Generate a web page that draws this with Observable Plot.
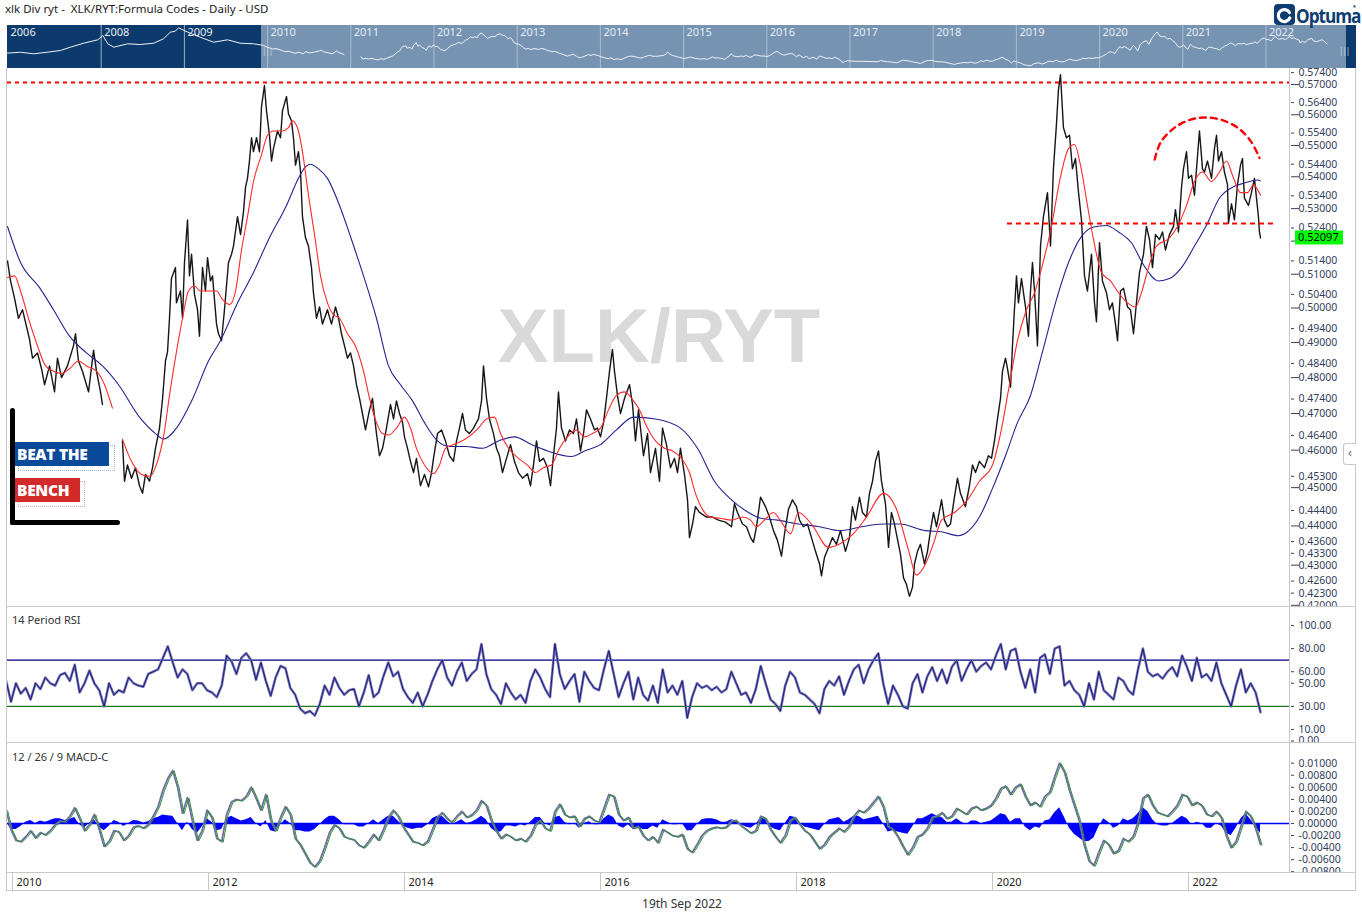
<!DOCTYPE html>
<html><head><meta charset="utf-8">
<script src="https://cdn.jsdelivr.net/npm/d3@7"></script>
<script src="https://cdn.jsdelivr.net/npm/@observablehq/plot@0.6"></script>
<style>
body{margin:0;background:#fff;font-family:"Noto Sans",sans-serif;}
#root{position:relative;width:1362px;height:924px;overflow:hidden;background:#fff;}
</style></head><body><div id="root"></div>
<script>
// ---------------- DATA ----------------
const price = [
[2009.949,0.514],[2009.980,0.508],[2010.020,0.503],[2010.061,0.497],[2010.102,0.4995],[2010.173,0.491],[2010.204,0.4855],[2010.255,0.487],[2010.296,0.4825],[2010.327,0.478],[2010.378,0.4833],[2010.429,0.476],[2010.459,0.4855],[2010.500,0.480],[2010.561,0.4833],[2010.622,0.489],[2010.643,0.4925],[2010.673,0.4847],[2010.714,0.4818],[2010.776,0.476],[2010.827,0.4878],[2010.857,0.4818],[2010.898,0.476],[2010.918,0.4725],
[2011.02,null],
[2011.122,0.4625],[2011.143,0.4517],[2011.173,0.456],[2011.214,0.4525],[2011.255,0.4553],[2011.296,0.4505],[2011.327,0.4485],[2011.357,0.4535],[2011.398,0.4517],[2011.429,0.4553],[2011.459,0.4605],[2011.500,0.466],[2011.531,0.474],[2011.561,0.4847],[2011.582,0.4873],[2011.602,0.497],[2011.622,0.5087],[2011.663,0.512],[2011.673,0.5015],[2011.714,0.505],[2011.735,0.497],[2011.755,0.5135],[2011.786,0.5265],[2011.806,0.5095],[2011.827,0.516],[2011.857,0.504],[2011.888,0.4995],[2011.908,0.4918],[2011.939,0.512],[2011.969,0.505],[2011.990,0.515],[2012.020,0.508],[2012.041,0.5095],[2012.082,0.4953],[2012.102,0.4925],[2012.133,0.4905],[2012.163,0.4995],[2012.204,0.5135],[2012.235,0.516],[2012.255,0.5185],[2012.296,0.5275],[2012.327,0.522],[2012.357,0.529],[2012.378,0.5367],[2012.398,0.5395],[2012.418,0.545],[2012.439,0.5525],[2012.459,0.548],[2012.490,0.5525],[2012.520,0.548],[2012.541,0.5627],[2012.571,0.5697],[2012.592,0.5613],[2012.622,0.5533],[2012.643,0.545],[2012.663,0.549],[2012.704,0.5547],[2012.735,0.5525],[2012.755,0.5613],[2012.796,0.566],[2012.816,0.5603],[2012.847,0.558],[2012.867,0.5525],[2012.888,0.5437],[2012.918,0.548],[2012.939,0.5415],[2012.959,0.5275],[2012.990,0.521],[2013.020,0.5185],[2013.051,0.512],[2013.071,0.5045],[2013.102,0.497],[2013.133,0.5003],[2013.163,0.4953],[2013.214,0.4995],[2013.255,0.4953],[2013.296,0.5003],[2013.327,0.497],[2013.357,0.4925],[2013.388,0.489],[2013.418,0.4855],[2013.449,0.487],[2013.480,0.4833],[2013.510,0.478],[2013.541,0.4742],[2013.571,0.470],[2013.602,0.4655],[2013.643,0.471],[2013.673,0.4742],[2013.714,0.4645],[2013.745,0.4585],[2013.776,0.4605],[2013.816,0.466],[2013.857,0.4725],[2013.888,0.4685],[2013.918,0.4735],[2013.949,0.470],[2013.980,0.4675],[2014.000,0.4636],[2014.031,0.4605],[2014.061,0.457],[2014.092,0.454],[2014.122,0.4578],[2014.163,0.4505],[2014.204,0.4535],[2014.245,0.4502],[2014.276,0.454],[2014.296,0.4578],[2014.337,0.4645],[2014.378,0.4655],[2014.418,0.4625],[2014.459,0.4585],[2014.500,0.457],[2014.531,0.4625],[2014.561,0.466],[2014.592,0.470],[2014.622,0.4655],[2014.663,0.4645],[2014.704,0.466],[2014.755,0.4685],[2014.786,0.4735],[2014.806,0.4833],[2014.837,0.4742],[2014.867,0.4685],[2014.908,0.4645],[2014.939,0.4605],[2014.969,0.4585],[2015.000,0.454],[2015.041,0.4578],[2015.082,0.4615],[2015.122,0.457],[2015.163,0.454],[2015.204,0.4525],[2015.255,0.4537],[2015.286,0.4505],[2015.316,0.456],[2015.347,0.4625],[2015.378,0.457],[2015.418,0.4578],[2015.459,0.4553],[2015.490,0.4505],[2015.520,0.4585],[2015.551,0.466],[2015.571,0.476],[2015.602,0.466],[2015.643,0.4625],[2015.684,0.4655],[2015.724,0.4645],[2015.755,0.4685],[2015.796,0.4598],[2015.827,0.4645],[2015.857,0.471],[2015.898,0.4685],[2015.939,0.4655],[2015.969,0.466],[2016.000,0.4636],[2016.031,0.4675],[2016.061,0.4742],[2016.092,0.4818],[2016.122,0.488],[2016.143,0.4818],[2016.173,0.475],[2016.204,0.470],[2016.245,0.4742],[2016.296,0.478],[2016.327,0.4725],[2016.357,0.4625],[2016.388,0.471],[2016.439,0.4585],[2016.480,0.4645],[2016.510,0.454],[2016.561,0.4605],[2016.602,0.4517],[2016.633,0.466],[2016.673,0.4615],[2016.714,0.4553],[2016.755,0.4578],[2016.786,0.454],[2016.816,0.4605],[2016.857,0.4535],[2016.888,0.4468],[2016.908,0.437],[2016.939,0.4405],[2016.969,0.445],[2017.010,0.4435],[2017.082,0.4423],[2017.143,0.4423],[2017.204,0.4415],[2017.276,0.441],[2017.337,0.4398],[2017.367,0.4458],[2017.398,0.4435],[2017.449,0.4405],[2017.490,0.4398],[2017.531,0.437],[2017.561,0.4358],[2017.592,0.4398],[2017.633,0.4475],[2017.684,0.445],[2017.724,0.4423],[2017.765,0.4388],[2017.806,0.4363],[2017.847,0.4323],[2017.878,0.438],[2017.918,0.4443],[2017.959,0.4468],[2018.000,0.445],[2018.031,0.4415],[2018.071,0.4398],[2018.112,0.4405],[2018.153,0.437],[2018.194,0.4335],[2018.235,0.4303],[2018.255,0.4273],[2018.286,0.432],[2018.327,0.4345],[2018.367,0.437],[2018.408,0.4353],[2018.449,0.4388],[2018.500,0.4335],[2018.541,0.437],[2018.571,0.445],[2018.602,0.4415],[2018.643,0.4475],[2018.673,0.4435],[2018.714,0.4423],[2018.745,0.4485],[2018.776,0.4517],[2018.806,0.457],[2018.837,0.4598],[2018.867,0.4517],[2018.908,0.4458],[2018.939,0.4345],[2018.969,0.4435],[2019.000,0.4405],[2019.041,0.4353],[2019.061,0.4328],[2019.092,0.4268],[2019.122,0.4252],[2019.153,0.4222],[2019.184,0.4245],[2019.204,0.4303],[2019.235,0.4335],[2019.265,0.4353],[2019.306,0.4303],[2019.337,0.4335],[2019.367,0.4388],[2019.398,0.4435],[2019.429,0.4398],[2019.480,0.4468],[2019.510,0.4415],[2019.541,0.4398],[2019.571,0.4405],[2019.612,0.4475],[2019.643,0.4525],[2019.673,0.4485],[2019.724,0.445],[2019.765,0.4505],[2019.796,0.456],[2019.827,0.454],[2019.867,0.457],[2019.918,0.4553],[2019.959,0.4585],[2019.990,0.4578],[2020.020,0.4625],[2020.051,0.4685],[2020.082,0.4742],[2020.102,0.4818],[2020.133,0.4855],[2020.153,0.4825],[2020.184,0.4773],[2020.204,0.489],[2020.224,0.4995],[2020.245,0.5095],[2020.265,0.5015],[2020.296,0.5087],[2020.337,0.5003],[2020.367,0.4918],[2020.388,0.505],[2020.408,0.5135],[2020.429,0.505],[2020.459,0.489],[2020.490,0.5185],[2020.520,0.5275],[2020.561,0.535],[2020.592,0.5185],[2020.622,0.5425],[2020.653,0.557],[2020.673,0.5683],[2020.694,0.5733],[2020.724,0.5558],[2020.755,0.5525],[2020.786,0.5533],[2020.816,0.5425],[2020.847,0.5458],[2020.878,0.535],[2020.908,0.5265],[2020.939,0.5095],[2020.969,0.505],[2021.010,0.516],[2021.041,0.5015],[2021.061,0.496],[2021.092,0.5195],[2021.122,0.508],[2021.163,0.5045],[2021.194,0.4995],[2021.224,0.5015],[2021.255,0.4953],[2021.276,0.4905],[2021.306,0.505],[2021.337,0.5058],[2021.378,0.5003],[2021.408,0.4995],[2021.439,0.4925],[2021.469,0.5015],[2021.500,0.5105],[2021.541,0.516],[2021.571,0.5245],[2021.602,0.5205],[2021.633,0.512],[2021.663,0.522],[2021.704,0.5205],[2021.735,0.5228],[2021.765,0.5173],[2021.806,0.522],[2021.847,0.5245],[2021.867,0.5297],[2021.898,0.5228],[2021.929,0.5367],[2021.949,0.5425],[2021.980,0.548],[2022.000,0.5395],[2022.031,0.5405],[2022.061,0.5342],[2022.082,0.5425],[2022.112,0.5547],[2022.143,0.5425],[2022.163,0.5415],[2022.194,0.545],[2022.235,0.5395],[2022.265,0.549],[2022.286,0.5533],[2022.306,0.545],[2022.337,0.548],[2022.367,0.5415],[2022.398,0.5375],[2022.408,0.5255],[2022.439,0.5315],[2022.469,0.5265],[2022.500,0.5375],[2022.531,0.5437],[2022.551,0.5458],[2022.571,0.5333],[2022.612,0.531],[2022.643,0.535],[2022.673,0.5395],[2022.694,0.5333],[2022.714,0.5275],[2022.724,0.5228],[2022.735,0.52097]
];
const redMA = [
[2009.949,0.509],[2010.020,0.5095],[2010.082,0.505],[2010.173,0.496],[2010.255,0.489],[2010.337,0.4833],[2010.418,0.4818],[2010.500,0.4812],[2010.582,0.4825],[2010.673,0.4847],[2010.755,0.4833],[2010.857,0.4818],[2010.939,0.478],[2011.020,0.4715],[2011.07,null],[2011.122,0.463],[2011.214,0.457],[2011.316,0.4535],[2011.398,0.453],[2011.480,0.457],[2011.541,0.4636],[2011.602,0.475],[2011.673,0.4873],[2011.735,0.497],[2011.796,0.505],[2011.857,0.5065],[2011.918,0.505],[2012.000,0.505],[2012.082,0.505],[2012.143,0.5025],[2012.214,0.501],[2012.276,0.505],[2012.337,0.5173],[2012.398,0.5275],[2012.459,0.5385],[2012.541,0.547],[2012.602,0.5533],[2012.663,0.5547],[2012.755,0.5547],[2012.816,0.5558],[2012.857,0.558],[2012.918,0.5547],[2012.959,0.548],[2013.020,0.5342],[2013.082,0.522],[2013.143,0.5095],[2013.214,0.5015],[2013.276,0.498],[2013.337,0.497],[2013.418,0.4925],[2013.500,0.489],[2013.582,0.4818],[2013.643,0.4742],[2013.714,0.4675],[2013.776,0.4645],[2013.837,0.4641],[2013.918,0.466],[2014.000,0.469],[2014.061,0.466],[2014.122,0.4605],[2014.204,0.456],[2014.296,0.4537],[2014.357,0.456],[2014.418,0.4605],[2014.500,0.4615],[2014.622,0.463],[2014.755,0.466],[2014.837,0.4685],[2014.918,0.469],[2014.980,0.4645],[2015.061,0.4605],[2015.163,0.4578],[2015.255,0.456],[2015.337,0.454],[2015.418,0.4553],[2015.500,0.456],[2015.582,0.4605],[2015.663,0.4636],[2015.755,0.4655],[2015.837,0.4636],[2015.918,0.4645],[2016.000,0.466],[2016.082,0.471],[2016.163,0.475],[2016.245,0.476],[2016.337,0.4735],[2016.388,0.4715],[2016.480,0.466],[2016.561,0.4625],[2016.653,0.4605],[2016.735,0.4598],[2016.827,0.4578],[2016.908,0.454],[2016.969,0.4485],[2017.041,0.4443],[2017.122,0.4423],[2017.224,0.442],[2017.337,0.4415],[2017.449,0.4423],[2017.531,0.4415],[2017.592,0.4398],[2017.684,0.4418],[2017.765,0.4435],[2017.847,0.441],[2017.939,0.438],[2018.020,0.4435],[2018.153,0.4405],[2018.327,0.4345],[2018.449,0.4355],[2018.582,0.438],[2018.714,0.4423],[2018.888,0.4485],[2019.010,0.445],[2019.143,0.4338],[2019.224,0.4275],[2019.316,0.4303],[2019.398,0.4355],[2019.480,0.4415],[2019.612,0.4435],[2019.745,0.4468],[2019.867,0.4517],[2020.000,0.456],[2020.082,0.4645],[2020.173,0.478],[2020.255,0.4905],[2020.347,0.4995],[2020.429,0.5045],[2020.510,0.5128],[2020.602,0.5245],[2020.684,0.5385],[2020.776,0.549],[2020.837,0.5503],[2020.898,0.5437],[2020.969,0.531],[2021.031,0.5205],[2021.112,0.5105],[2021.204,0.508],[2021.286,0.5045],[2021.378,0.5015],[2021.459,0.5003],[2021.520,0.5045],[2021.592,0.512],[2021.673,0.5185],[2021.806,0.521],[2021.888,0.5245],[2021.980,0.531],[2022.061,0.5385],[2022.143,0.5415],[2022.235,0.5385],[2022.316,0.5415],[2022.388,0.545],[2022.449,0.5405],[2022.531,0.535],[2022.602,0.535],[2022.663,0.5375],[2022.704,0.536],[2022.735,0.5342]
];
const navyMA = [
[2009.949,0.5245],[2010.082,0.5135],[2010.276,0.506],[2010.418,0.4995],[2010.582,0.4918],[2010.755,0.487],[2010.918,0.4833],[2011.082,0.478],[2011.296,0.469],[2011.459,0.4645],[2011.541,0.463],[2011.673,0.466],[2011.837,0.474],[2012.000,0.4847],[2012.122,0.4905],[2012.296,0.5015],[2012.459,0.5105],[2012.622,0.521],[2012.796,0.531],[2012.918,0.5395],[2012.980,0.5428],[2013.041,0.544],[2013.122,0.5425],[2013.214,0.5395],[2013.337,0.531],[2013.459,0.5205],[2013.582,0.5095],[2013.714,0.497],[2013.837,0.4833],[2013.959,0.478],[2014.082,0.4735],[2014.204,0.4675],[2014.337,0.4625],[2014.459,0.461],[2014.622,0.461],[2014.796,0.4605],[2014.959,0.4625],[2015.122,0.4636],[2015.296,0.4615],[2015.459,0.4598],[2015.704,0.4583],[2015.837,0.4598],[2016.000,0.4615],[2016.163,0.4655],[2016.337,0.469],[2016.561,0.4685],[2016.816,0.466],[2016.990,0.4605],[2017.163,0.4517],[2017.337,0.4468],[2017.510,0.4435],[2017.633,0.442],[2017.806,0.4415],[2018.020,0.4405],[2018.235,0.4398],[2018.449,0.4388],[2018.663,0.4398],[2018.888,0.4405],[2019.051,0.4405],[2019.316,0.4388],[2019.480,0.4385],[2019.653,0.4375],[2019.745,0.4385],[2019.867,0.4423],[2020.000,0.4498],[2020.133,0.4585],[2020.255,0.4675],[2020.388,0.475],[2020.510,0.4873],[2020.643,0.5015],[2020.776,0.5135],[2020.898,0.521],[2021.031,0.5243],[2021.163,0.5248],[2021.286,0.5228],[2021.418,0.5195],[2021.541,0.5128],[2021.694,0.508],[2021.806,0.5087],[2021.929,0.512],[2022.061,0.5185],[2022.194,0.5255],[2022.316,0.5333],[2022.449,0.5367],[2022.571,0.538],[2022.704,0.539],[2022.735,0.5387]
];
// navigator history before the visible window
const navPre = [
[2006.86,0.4787],[2007.03,0.483],[2007.19,0.476],[2007.35,0.483],[2007.51,0.4908],[2007.63,0.5056],[2007.79,0.5236],[2007.96,0.5388],[2008.02,0.5581],[2008.08,0.5209],[2008.15,0.5056],[2008.32,0.5209],[2008.47,0.5177],[2008.63,0.5236],[2008.75,0.5433],[2008.83,0.5729],[2008.89,0.5774],[2008.93,0.5927],[2008.98,0.5837],[2009.07,0.5684],[2009.19,0.5505],[2009.35,0.528],[2009.52,0.5388],[2009.67,0.5236],[2009.83,0.5209]
];
// annotations
const resistanceLevel = [0.5707];
const supportLine = [{from: 2020.153, to: 2022.867, level: 0.5254}];
const arcPts = [[2021.655,0.5455],[2021.716,0.551],[2021.859,0.5558],[2022.022,0.5584],[2022.165,0.5591],[2022.328,0.5584],[2022.501,0.5558],[2022.633,0.5515],[2022.725,0.546]];
const lastValue = 0.52097;
// indicators (sampled every 0.05 yr from 2009.935)
const INDICATOR_START = 2009.935, INDICATOR_STEP = 0.05;
const rsiValues = [
52,34,50,41,46,36,50,45,55,50, 48,57,59,52,66,42,50,61,50,44, 30,50,40,44,42,55,50,48,47,58,
60,62,72,82,68,55,62,58,44,50, 50,44,42,38,48,74,69,58,72,76, 70,53,68,52,39,55,65,63,46,40,
28,24,26,22,32,48,40,55,46,40, 44,45,30,42,57,38,42,56,68,56, 60,45,38,33,42,30,40,52,62,70,
55,48,60,68,52,58,62,84,58,45, 40,32,50,42,36,40,33,52,62,55, 45,38,84,58,45,52,58,34,60,52,
46,44,62,78,58,38,50,60,36,55, 40,35,48,33,62,42,48,40,52,20, 38,50,46,48,44,47,42,45,60,50,
40,42,33,45,65,50,36,32,26,48, 60,55,42,40,36,32,24,45,52,48, 56,40,52,62,66,50,62,70,76,50,
32,48,40,30,28,50,58,42,56,64, 52,62,50,64,70,52,62,70,60,65, 68,62,74,84,62,78,80,60,46,62,
42,72,75,58,80,82,48,52,44,40, 30,50,36,60,44,40,36,55,52,44, 40,62,80,60,56,58,54,60,64,56,
74,64,52,72,55,58,52,68,50,40, 30,48,62,42,50,42,25
];
const macdValues = [
.0022,-.0010,-.0028,-.0030,-.0022,-.0012,-.0024,-.0015,-.0019,-.0012,
-.0002,.0004,.0003,.0012,.0026,.0008,-.0012,-.0002,.0015,-.0010,
-.0038,-.0030,-.0012,-.0014,-.0028,-.0020,-.0006,-.0004,-.0008,-.0002,
.0012,.0028,.0055,.0075,.0088,.0060,.0017,.0043,.0005,-.0028,
-.0012,.0022,.0010,-.0025,-.0030,.0015,.0036,.0040,.0038,.0045,
.0060,.0042,.0022,.0048,.0005,-.0012,.0010,.0028,.0015,-.0025,
-.0035,-.0050,-.0065,-.0072,-.0062,-.0040,-.0015,-.0002,-.0008,-.0022,
-.0025,-.0027,-.0036,-.0040,-.0030,-.0018,-.0028,-.0010,.0010,.0022,
.0012,-.0005,-.0018,-.0030,-.0032,-.0036,-.0030,-.0010,.0010,.0018,
.0008,.0002,.0012,.0020,.0010,.0014,.0022,.0038,.0030,.0005,
-.0012,-.0025,-.0018,-.0022,-.0028,-.0025,-.0030,-.0020,-.0002,.0005,
-.0008,-.0012,.0020,.0032,.0015,.0010,.0012,-.0005,.0008,.0012,
.0005,.0002,.0025,.0048,.0045,.0015,.0005,.0010,-.0008,-.0005,
-.0020,-.0028,-.0022,-.0032,-.0010,-.0015,-.0020,-.0022,-.0018,-.0042,
-.0048,-.0035,-.0020,-.0012,-.0008,-.0006,-.0008,-.0006,.0004,.0005,
-.0004,-.0010,-.0016,-.0012,.0012,.0008,-.0010,-.0022,-.0032,-.0020,
.0005,.0010,-.0002,-.0012,-.0018,-.0030,-.0042,-.0035,-.0022,-.0015,
-.0008,-.0014,-.0005,.0012,.0022,.0018,.0025,.0035,.0045,.0028,
-.0005,-.0010,-.0022,-.0038,-.0052,-.0040,-.0022,-.0018,-.0008,.0010,
.0012,.0018,.0008,.0012,.0025,.0020,.0015,.0025,.0028,.0022,
.0025,.0030,.0042,.0058,.0062,.0048,.0060,.0065,.0045,.0030,
.0035,.0028,.0045,.0052,.0078,.0100,.0085,.0055,.0030,.0005,
-.0035,-.0062,-.0070,-.0048,-.0028,-.0035,-.0050,-.0045,-.0025,-.0030,
-.0022,.0002,.0042,.0048,.0030,.0018,.0015,.0012,.0020,.0030,
.0048,.0045,.0030,.0035,.0030,.0015,.0012,.0020,.0010,-.0020,
-.0040,-.0030,-.0005,.0020,.0012,-.0008,-.0035
];
const histValues = [
.0003,-.0010,-.0010,-.0005,.0002,.0005,.0000,.0004,.0002,.0005,
.0008,.0008,.0005,.0007,.0010,-.0002,-.0008,.0001,.0006,-.0006,
-.0012,-.0005,.0005,.0002,-.0005,.0000,.0005,.0004,.0001,.0003,
.0008,.0010,.0014,.0013,.0012,.0000,-.0012,.0002,-.0010,-.0016,
-.0006,.0008,.0002,-.0012,-.0010,.0008,.0012,.0008,.0004,.0006,
.0010,.0000,-.0006,.0005,-.0012,-.0014,-.0002,.0006,.0000,-.0012,
-.0012,-.0014,-.0014,-.0010,-.0002,.0006,.0012,.0012,.0006,-.0002,
-.0002,-.0002,-.0006,-.0006,.0000,.0006,.0000,.0006,.0012,.0012,
.0004,-.0004,-.0008,-.0010,-.0008,-.0008,-.0002,.0008,.0012,.0012,
.0004,-.0002,.0002,.0006,.0000,.0002,.0006,.0012,.0006,-.0008,
-.0014,-.0014,-.0004,-.0004,-.0006,-.0002,-.0004,.0002,.0010,.0010,
.0000,-.0004,.0010,.0012,.0002,-.0002,.0000,-.0008,.0000,.0003,
-.0002,-.0002,.0008,.0014,.0010,-.0004,-.0008,-.0002,-.0010,-.0006,
-.0010,-.0010,-.0004,-.0008,.0006,.0002,-.0002,-.0002,.0000,-.0012,
-.0012,-.0002,.0006,.0008,.0008,.0006,.0002,.0002,.0006,.0004,
-.0002,-.0006,-.0008,-.0002,.0010,.0006,-.0006,-.0010,-.0012,.0000,
.0012,.0010,.0000,-.0006,-.0008,-.0010,-.0012,-.0002,.0006,.0008,
.0010,.0002,.0006,.0012,.0012,.0006,.0008,.0010,.0012,.0000,
-.0014,-.0012,-.0014,-.0016,-.0018,-.0006,.0008,.0008,.0012,.0016,
.0012,.0010,.0002,.0002,.0008,.0002,-.0002,.0004,.0004,.0000,
.0002,.0004,.0010,.0016,.0014,.0002,.0008,.0008,-.0006,-.0012,
-.0006,-.0008,.0004,.0006,.0018,.0026,.0010,-.0008,-.0018,-.0024,
-.0030,-.0030,-.0024,-.0006,.0008,.0002,-.0008,-.0004,.0008,.0004,
.0008,.0016,.0026,.0020,.0006,-.0002,-.0004,-.0004,.0000,.0006,
.0012,.0008,-.0002,.0002,.0000,-.0008,-.0008,.0000,-.0004,-.0016,
-.0020,-.0008,.0008,.0016,.0006,-.0006,-.0016
];
// axes ticks
const priceMajorTicks = [0.57,0.56,0.55,0.54,0.53,0.52,0.51,0.50,0.49,0.48,0.47,0.46,0.45,0.44,0.43,0.42];
const priceMinorTicks = [0.574,0.564,0.554,0.544,0.534,0.524,0.514,0.504,0.494,0.484,0.474,0.464,0.453,0.444,0.436,0.433,0.426,0.423];
const rsiTicks = [100,80,60,50,30,10,0];
const rsiBands = {upper: 70, lower: 30};
const macdTicks = [0.010,0.008,0.006,0.004,0.002,0,-0.002,-0.004,-0.006,-0.008];
const xTickYears = [2010,2012,2014,2016,2018,2020,2022];
const navYears = [2008,2009,2010,2011,2012,2013,2014,2015,2016,2017,2018,2019,2020,2021,2022];
const navWindow = [[2009.927, 2022.968]];

// ---------------- LAYOUT ----------------
const X_DOMAIN = [2009.949, 2023.041];
const W = 1362, ML = 7, MR = 72;
const root = document.getElementById("root");
function el(tag, style, html){const e=document.createElement(tag);e.style.cssText=style;if(html!=null)e.innerHTML=html;root.appendChild(e);return e;}
const fmt5 = d => (Math.abs(d) < 1e-12 ? 0 : d).toFixed(5);
const FONT = '"Noto Sans", sans-serif';
const AXC = "#33405c";
const AXFS = 10.5;

// title
el("div","position:absolute;left:5px;top:1px;font:11.5px "+FONT+";color:#222;white-space:pre;","xlk Div ryt -  XLK/RYT:Formula Codes - Daily - USD");

// navigator
const navDiv = el("div","position:absolute;left:7px;top:25px;width:1349px;height:43px;background:#0d3a6c;overflow:hidden;");
const navSeries = navPre.concat(price);
const nav = Plot.plot({
  width:1349, height:43, marginLeft:0, marginRight:0, marginTop:0, marginBottom:0,
  style:{background:"transparent", fontFamily:FONT},
  x:{domain:[2006.874,2023.088], axis:null},
  y:{domain:[0.410,0.603], axis:null},
  marks:[
    Plot.rect(navWindow,{x1:d=>d[0], x2:d=>d[1], fill:"#7694b2"}),
    Plot.ruleX(navYears,{stroke:"#b6c4d4", strokeOpacity:0.85}),
    Plot.line(navSeries,{x:d=>d[0], y:d=>d[1], stroke:"#eef2f7", strokeWidth:1}),
    Plot.text(navYears,{x:d=>d, text:d=>String(d), frameAnchor:"top", lineAnchor:"top", textAnchor:"start", dx:3, dy:3, fill:"#e8eef5", fontSize:11}),
    Plot.text(["2006"],{frameAnchor:"top-left", lineAnchor:"top", textAnchor:"start", dx:3, dy:3, fill:"#e8eef5", fontSize:11})
  ]
});
navDiv.appendChild(nav);
el("div","position:absolute;left:262px;top:45px;font:8px "+FONT+";color:#c9d2dc;letter-spacing:-1px;","|||");
el("div","position:absolute;left:1339px;top:45px;font:8px "+FONT+";color:#c9d2dc;letter-spacing:-1px;","|||");

// Optuma logo
el("div","position:absolute;left:1274px;top:4px;width:21px;height:21px;background:#0c3c70;border-radius:4px;",
 '<svg width="21" height="21"><path d="M15.5 8.5 A6 6 0 1 0 15.8 14" fill="none" stroke="#fff" stroke-width="3.2" stroke-linecap="round"/><circle cx="10.8" cy="11.6" r="2" fill="#0c3c70"/></svg>');
el("div","position:absolute;left:1296px;top:2px;font:bold 20px 'Open Sans',sans-serif;color:#0c3c70;letter-spacing:-1.2px;transform:scaleX(0.86);transform-origin:left top;","Optuma");
el("div","position:absolute;left:1353px;top:4px;font:bold 7px sans-serif;color:#0c3c70;","*");

// main panel (div starts 3px above the frame so the top tick label is not clipped)
const mainDiv = el("div","position:absolute;left:0;top:65px;width:1362px;height:541px;overflow:hidden;");
const main = Plot.plot({
  width:W, height:541, marginLeft:ML, marginRight:MR, marginTop:3, marginBottom:0,
  style:{background:"transparent", fontFamily:FONT, fontSize:"11px", overflow:"visible"},
  x:{domain:X_DOMAIN, axis:null},
  y:{type:"log", domain:[0.4197,0.5754], axis:null},
  marks:[
    Plot.text(["XLK/RYT"],{frameAnchor:"middle", dx:10, dy:0, fontSize:76, fontWeight:"bold", fill:"#d9d9d9", fontFamily:"'Liberation Sans', Arial, sans-serif"}),
    Plot.line(price,{x:d=>d[0], y:d=>d[1], stroke:"#161616", strokeWidth:1.4}),
    Plot.line(navyMA,{x:d=>d[0], y:d=>d[1], stroke:"#23238f", strokeWidth:1.1, curve:"monotone-x"}),
    Plot.line(redMA,{x:d=>d[0], y:d=>d[1], stroke:"#ff2b2b", strokeWidth:1.1, curve:"monotone-x"}),
    Plot.ruleY(resistanceLevel,{stroke:"#ff0000", strokeWidth:2, strokeDasharray:"4,4"}),
    Plot.ruleY(supportLine,{y:"level", x1:"from", x2:"to", stroke:"#ff0000", strokeWidth:2, strokeDasharray:"5,4"}),
    Plot.line(arcPts,{x:d=>d[0], y:d=>d[1], stroke:"#ff0000", strokeWidth:2.4, strokeDasharray:"6,5", curve:"catmull-rom"}),
    Plot.axisY(priceMajorTicks,{anchor:"right", tickSize:8, tickPadding:0, tickFormat:d => Math.abs(d - 0.52) < 1e-9 ? "" : fmt5(d), color:AXC, fontSize:AXFS, label:null}),
    Plot.axisY(priceMinorTicks,{anchor:"right", tickSize:3, tickPadding:5, tickFormat:fmt5, color:AXC, fontSize:AXFS, label:null})
  ]
});
mainDiv.appendChild(main);
// last value label
{
  const yv = main.scale("y").apply(lastValue);
  const svg = d3.select(main);
  svg.append("rect").attr("x",1295).attr("y",yv-7).attr("width",48).attr("height",14).attr("fill","#00ff00");
  svg.append("text").attr("x",1298).attr("y",yv+4).attr("text-anchor","start").attr("font-size",11).attr("fill","#000").attr("font-family",FONT).text(lastValue.toFixed(5));
}

// RSI panel
const indT = rsiValues.map((_, i) => +(INDICATOR_START + i*INDICATOR_STEP).toFixed(3));
const rsiData = rsiValues.map((v,i)=>({t:indT[i], v}));
const macdData = macdValues.map((v,i)=>({t:indT[i], v, h:histValues[i]}));
const rsiDiv = el("div","position:absolute;left:0;top:606px;width:1362px;height:136px;overflow:hidden;");
const rsi = Plot.plot({
  width:W, height:136, marginLeft:ML, marginRight:MR, marginTop:0, marginBottom:0,
  style:{background:"transparent", fontFamily:FONT, fontSize:"11px", overflow:"visible"},
  x:{domain:X_DOMAIN, axis:null},
  y:{domain:[-1.3,116.5], axis:null},
  marks:[
    Plot.ruleY([rsiBands.upper],{stroke:"#000080", strokeWidth:1.2}),
    Plot.ruleY([rsiBands.lower],{stroke:"#1e7a1e", strokeWidth:1.2}),
    Plot.line(rsiData,{x:"t", y:"v", stroke:"#7878b4", strokeWidth:2.6, clip:true}),
    Plot.line(rsiData,{x:"t", y:"v", stroke:"#1a1a7e", strokeWidth:1, clip:true}),
    Plot.axisY(rsiTicks,{anchor:"right", tickSize:3, tickPadding:5, tickFormat:d=>d.toFixed(2), color:AXC, fontSize:AXFS, label:null})
  ]
});
rsiDiv.appendChild(rsi);
el("div","position:absolute;left:12px;top:612px;font:11px "+FONT+";color:#333;","14 Period RSI");

// MACD panel
const macdDiv = el("div","position:absolute;left:0;top:742px;width:1362px;height:130px;overflow:hidden;");
const macd = Plot.plot({
  width:W, height:130, marginLeft:ML, marginRight:MR, marginTop:0, marginBottom:0,
  style:{background:"transparent", fontFamily:FONT, fontSize:"11px", overflow:"visible"},
  x:{domain:X_DOMAIN, axis:null},
  y:{domain:[-0.00813,0.01343], axis:null},
  marks:[
    Plot.areaY(macdData,{x:"t", y:"h", fill:"#0000ff", clip:true}),
    Plot.ruleY([0],{stroke:"#0000ff", strokeWidth:1.6}),
    Plot.line(macdData,{x:"t", y:"v", stroke:"#6e6ea0", strokeWidth:1.8, clip:true}),
    Plot.line(macdData,{x:"t", y:"v", stroke:"#2f8f3a", strokeWidth:1, dx:1.5, dy:0.5, clip:true}),
    Plot.axisY(macdTicks,{anchor:"right", tickSize:3, tickPadding:5, tickFormat:fmt5, color:AXC, fontSize:AXFS, label:null})
  ]
});
macdDiv.appendChild(macd);
el("div","position:absolute;left:12px;top:749px;font:11px "+FONT+";color:#333;","12 / 26 / 9 MACD-C");

// x axis row
const xDiv = el("div","position:absolute;left:0;top:872px;width:1362px;height:18px;overflow:hidden;");
const xax = Plot.plot({
  width:W, height:18, marginLeft:ML, marginRight:MR, marginTop:0, marginBottom:0,
  style:{background:"transparent", fontFamily:FONT, fontSize:"11px", overflow:"visible"},
  x:{domain:X_DOMAIN, axis:null},
  marks:[
    Plot.ruleX(xTickYears,{stroke:"#c8c8c8"}),
    Plot.text(xTickYears,{x:d=>d, text:d=>String(d), textAnchor:"start", dx:4, dy:1, fill:"#222", fontSize:11})
  ]
});
xDiv.appendChild(xax);

// frame lines
el("div","position:absolute;left:6px;top:68px;width:1px;height:822px;background:#c8c8c8;");
el("div","position:absolute;left:1289px;top:68px;width:1px;height:804px;background:#c8c8c8;");
el("div","position:absolute;left:1355px;top:68px;width:1px;height:822px;background:#c8c8c8;");
[606,742,872,890].forEach(y=>el("div","position:absolute;left:6px;top:"+y+"px;width:1350px;height:1px;background:#c8c8c8;"));
// collapse tab
el("div","position:absolute;left:1343px;top:443px;width:12px;height:20px;background:#fff;border:1px solid #c8c8c8;border-right:none;border-radius:3px 0 0 3px;font:bold 12px sans-serif;color:#8a8a8a;text-align:center;line-height:19px;","&#8249;");

// BEAT THE BENCH logo
el("div","position:absolute;left:10px;top:408px;width:5px;height:117px;background:#000;border-radius:3px;");
el("div","position:absolute;left:10px;top:520px;width:110px;height:5px;background:#000;border-radius:3px;");
el("div","position:absolute;left:18px;top:445px;width:95px;height:24px;border:1px dotted #9fb8de;");
el("div","position:absolute;left:15px;top:442px;width:94px;height:24px;background:#0b4a9a;color:#fff;font:800 15.5px 'Open Sans',sans-serif;line-height:24px;padding-left:2px;box-sizing:border-box;letter-spacing:-0.3px;","BEAT THE");
el("div","position:absolute;left:18px;top:481px;width:65px;height:24px;border:1px dotted #e8a6a6;");
el("div","position:absolute;left:15px;top:478px;width:65px;height:24px;background:#d2292b;color:#fff;font:800 15.5px 'Open Sans',sans-serif;line-height:24px;padding-left:2px;box-sizing:border-box;letter-spacing:-0.3px;","BENCH");

// caption
el("div","position:absolute;left:0;top:895px;width:1364px;text-align:center;font:12px "+FONT+";color:#333;","19th Sep 2022");
</script></body></html>
